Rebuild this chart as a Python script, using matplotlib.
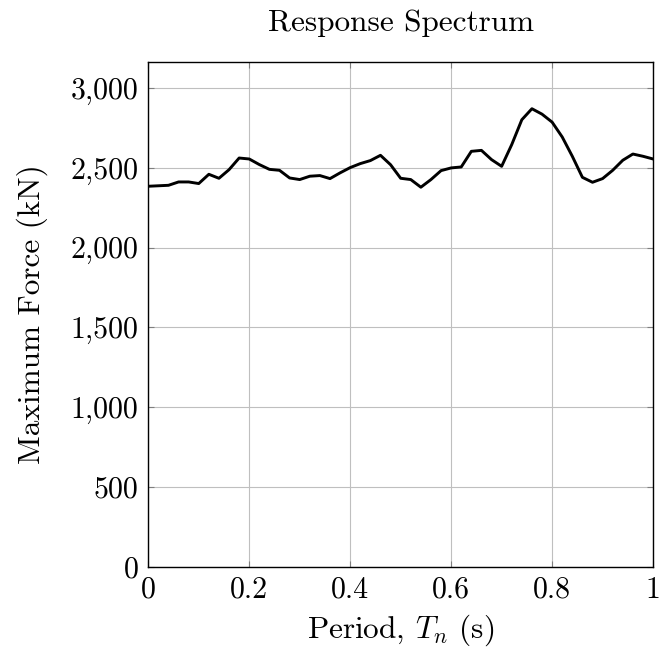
"""Response spectrum: maximum force against period"""

import numpy as np
import matplotlib
matplotlib.use('Agg')
import matplotlib.pyplot as plt
from matplotlib.ticker import FuncFormatter

# periods in s, step 0.02
period = np.round(np.arange(0, 51) * 0.02, 2)
max_force = [2385, 2388, 2391, 2412, 2412, 2402, 2460, 2435, 2489, 2562,
             2556, 2521, 2491, 2485, 2437, 2427, 2448, 2452, 2433, 2469,
             2502, 2527, 2546, 2579, 2520, 2435, 2427, 2379, 2427, 2483,
             2500, 2506, 2604, 2610, 2552, 2510, 2646, 2802, 2871, 2837,
             2787, 2694, 2573, 2441, 2410, 2433, 2485, 2548, 2587, 2573,
             2556]
x_ticks = [0, 0.2, 0.4, 0.6, 0.8, 1]
y_ticks = [0, 500, 1000, 1500, 2000, 2500, 3000]

plt.rcParams['font.family'] = 'serif'
plt.rcParams['font.serif'] = ['cmr10']
plt.rcParams['mathtext.fontset'] = 'cm'
plt.rcParams['axes.unicode_minus'] = False
plt.rcParams['axes.formatter.use_mathtext'] = True

fig = plt.figure(figsize=(6.59, 6.56), dpi=100)
ax = fig.add_axes([0.225, 0.1361, 0.766, 0.7694])

ax.plot(period, max_force, color='black', linewidth=2.1)

ax.set_xlim(0, 1)
ax.set_ylim(0, 3164)
ax.set_xticks(x_ticks)
ax.set_yticks(y_ticks)
ax.xaxis.set_major_formatter(FuncFormatter(lambda v, p: '%g' % v))
ax.yaxis.set_major_formatter(FuncFormatter(lambda v, p: '{:,.0f}'.format(v)))
ax.grid(True, color='#bfbfbf', linewidth=0.8)
ax.tick_params(direction='in', length=4, top=True, right=True,
               labelsize=21.5, color='#7f7f7f', pad=7)
for s in ax.spines.values():
    s.set_linewidth(1.0)

ax.set_xlabel(r'Period, $T_n$ (s)', fontsize=22.5, labelpad=6)
ax.set_ylabel('Maximum Force (kN)', fontsize=22.5, labelpad=16)
ax.set_title('Response Spectrum', fontsize=22.5, pad=22)

fig.savefig('out.png', dpi=100)
